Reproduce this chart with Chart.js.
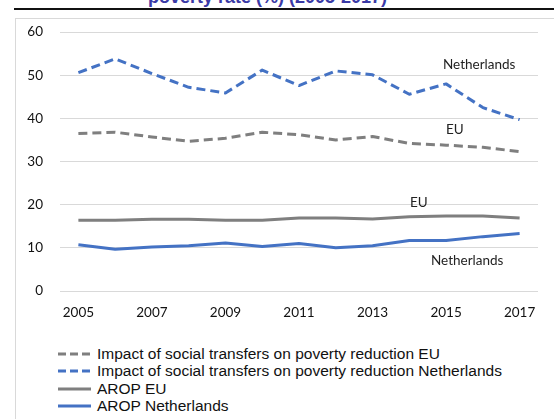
<!DOCTYPE html>
<html>
<head>
<meta charset="utf-8">
<script src="https://cdn.jsdelivr.net/npm/chart.js@4"></script>
<style>
  html, body { margin:0; padding:0; width:554px; height:419px; overflow:hidden; background:#fff; }
  #title { position:absolute; left:0; width:535px; top:-13px; line-height:20px; text-align:center; font-weight:bold; font-size:18px; font-family:"Liberation Sans", Arial, sans-serif; color:#3a3aa6; white-space:nowrap; }
  #rule { position:absolute; left:14px; top:8px; width:540px; height:2px; background:#111; }
  #box { position:absolute; left:15px; top:18px; width:560px; height:420px; border-left:1px solid #d9d9d9; border-top:1px solid #d9d9d9; }
  #c { position:absolute; left:15px; top:7px; }
  .ann { position:absolute; font:13.5px Lato, sans-serif; color:#222; white-space:nowrap; transform:translateY(-50%); }
  #legend { position:absolute; left:58px; top:345px; font:15.5px "Liberation Sans", Arial, sans-serif; color:#111; }
  .li { height:17.5px; display:flex; align-items:center; white-space:nowrap; }
  .li svg { margin-right:6px; }
</style>
</head>
<body>
<div id="title">poverty rate (%) (2005-2017)</div>
<div id="rule"></div>
<div id="box"></div>
<canvas id="c" width="539" height="314"></canvas>
<div class="ann" style="left:443px; top:64px;">Netherlands</div>
<div class="ann" style="left:446px; top:129px;">EU</div>
<div class="ann" style="left:410px; top:202px;">EU</div>
<div class="ann" style="left:431px; top:260px;">Netherlands</div>
<div id="legend"></div>
<script>
const years = ['2005','2006','2007','2008','2009','2010','2011','2012','2013','2014','2015','2016','2017'];
const impactEU = [36.5, 36.8, 35.7, 34.7, 35.4, 36.8, 36.2, 35.0, 35.8, 34.2, 33.8, 33.3, 32.3];
const impactNL = [50.6, 53.8, 50.4, 47.2, 45.9, 51.2, 47.6, 51.0, 50.1, 45.6, 48.0, 42.5, 39.7];
const aropEU = [16.4, 16.4, 16.6, 16.6, 16.4, 16.4, 16.9, 16.9, 16.7, 17.2, 17.4, 17.4, 16.9];
const aropNL = [10.7, 9.7, 10.2, 10.5, 11.1, 10.3, 11.0, 10.0, 10.5, 11.7, 11.7, 12.6, 13.3];
const yTicks = [0, 10, 20, 30, 40, 50, 60];
const legendLabels = ['Impact of social transfers on poverty reduction EU','Impact of social transfers on poverty reduction Netherlands','AROP EU','AROP Netherlands'];

const GRAY = '#7f7f7f', BLUE = '#4472c4';
const datasets = [
  { label: legendLabels[0], data: impactEU, borderColor: GRAY, borderDash:[9,5], borderWidth:3 },
  { label: legendLabels[1], data: impactNL, borderColor: BLUE, borderDash:[9,5], borderWidth:3 },
  { label: legendLabels[2], data: aropEU, borderColor: GRAY, borderWidth:3 },
  { label: legendLabels[3], data: aropNL, borderColor: BLUE, borderWidth:3 }
].map(d => Object.assign(d, { fill:false, tension:0, pointRadius:0, borderCapStyle:'butt', borderJoinStyle:'round' }));

new Chart(document.getElementById('c'), {
  type: 'line',
  data: { labels: years, datasets },
  options: {
    responsive: false, animation: false, devicePixelRatio: 1,
    layout: { padding: { top: 0, right: 16, left: 0, bottom: 0 } },
    plugins: { legend: { display:false }, tooltip: { enabled:false } },
    scales: {
      x: {
        offset: true,
        grid: { display:false, drawTicks:false },
        border: { display:false },
        ticks: { autoSkip:false, maxRotation:0, padding:14, color:'#111', font:{ family:'Lato', size:13.5 },
                 callback: function(v, i) { return i % 2 === 0 ? years[i] : ''; } },
        afterFit: s => { s.height = 30; }
      },
      y: {
        min: 0, max: 60,
        afterBuildTicks: s => { s.ticks = yTicks.map(v => ({ value: v })); },
        grid: { color:'#d9d9d9', lineWidth:1, drawTicks:false },
        border: { display:false },
        ticks: { padding:17, color:'#111', font:{ family:'Lato', size:13.5 } },
        afterFit: s => { s.width = 45; }
      }
    }
  }
});

const lg = document.getElementById('legend');
datasets.forEach(d => {
  const row = document.createElement('div'); row.className = 'li';
  const dash = d.borderDash ? 'stroke-dasharray="8 4"' : '';
  row.innerHTML = '<svg width="33" height="6"><line x1="0" y1="3" x2="33" y2="3" stroke="' + d.borderColor + '" stroke-width="3" ' + dash + '/></svg><span>' + d.label + '</span>';
  lg.appendChild(row);
});
</script>
</body>
</html>
